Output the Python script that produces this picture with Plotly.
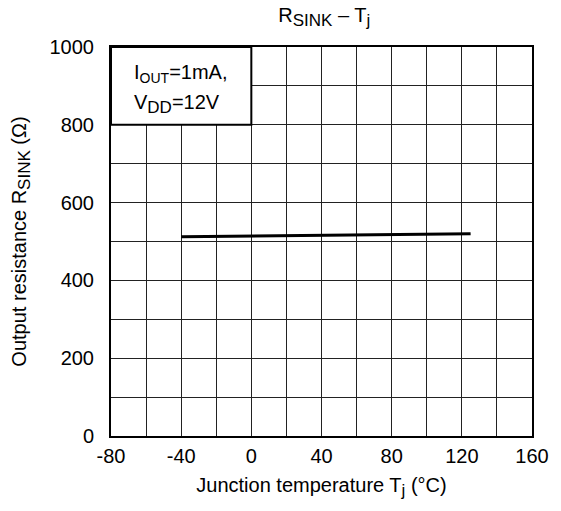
import plotly.graph_objects as go

# Junction temperature (°C) and sink output resistance (Ω)
temp_c = [-40, 0, 25, 85, 125]
r_sink = [512, 514, 515, 518, 520]

x_ticks = [-80, -40, 0, 40, 80, 120, 160]
x_tick_text = ["-80", "-40", "0", "40", "80", "120", "160"]
y_ticks = [0, 200, 400, 600, 800, 1000]

# Test conditions shown in the corner box
cond_lines = ["I{OUT}=1mA,", "V{DD}=12V"]
cond_y = [933, 853]

FONT = "Liberation Sans, Arial, sans-serif"
FS = 20


def sub(s, size=17):
    """Lowered subscript drawn at a larger size than Plotly's default."""
    return f'<sub><span style="font-size:{size}px">{s}</span></sub>'


fig = go.Figure()
fig.add_trace(go.Scatter(
    x=temp_c, y=r_sink, mode="lines",
    line=dict(color="black", width=3),
    showlegend=False, hoverinfo="skip",
))

axis_common = dict(
    showline=True, linecolor="black", linewidth=2, mirror=True,
    showgrid=True, gridcolor="#222", gridwidth=1,
    zeroline=False, ticks="",
    tickfont=dict(family=FONT, size=FS, color="black"),
)

fig.update_xaxes(
    range=[-80, 160], tickvals=x_ticks, ticktext=x_tick_text,
    ticklabelstandoff=1,
    minor=dict(dtick=20, showgrid=True, gridcolor="#222", gridwidth=1),
    title=dict(text="Junction temperature T" + sub("j") + " (°C)",
               font=dict(family=FONT, size=FS, color="black"), standoff=12),
    **axis_common,
)
fig.update_yaxes(
    range=[0, 1000], tickvals=y_ticks,
    ticklabelstandoff=11,
    minor=dict(dtick=100, showgrid=True, gridcolor="#222", gridwidth=1),
    title=dict(text="Output resistance R" + sub("SINK") + " (Ω)",
               font=dict(family=FONT, size=FS, color="black"), standoff=18),
    **axis_common,
)

# Condition box in the upper-left cell block
fig.add_shape(type="rect", xref="x", yref="y", x0=-80, x1=0, y0=800, y1=1000,
              fillcolor="white", line=dict(color="black", width=2), layer="above")
sub_sizes = {"OUT": 14, "DD": 17}
for line, yv in zip(cond_lines, cond_y):
    head, rest = line.split("{")
    key, tail = rest.split("}")
    fig.add_annotation(
        xref="x", yref="y", x=-68, y=yv, xanchor="left", yanchor="middle",
        text=head + sub(key, sub_sizes[key]) + tail,
        showarrow=False, align="left",
        font=dict(family=FONT, size=FS, color="black"),
    )

fig.update_layout(
    width=561, height=511,
    margin=dict(l=111, r=24, t=47, b=75),
    paper_bgcolor="white", plot_bgcolor="white",
    title=dict(text="R" + sub("SINK") + " – T" + sub("j"), x=0.578, xanchor="center",
               y=0.985, yanchor="top",
               font=dict(family=FONT, size=FS, color="black")),
)

fig.write_html("out.html")
